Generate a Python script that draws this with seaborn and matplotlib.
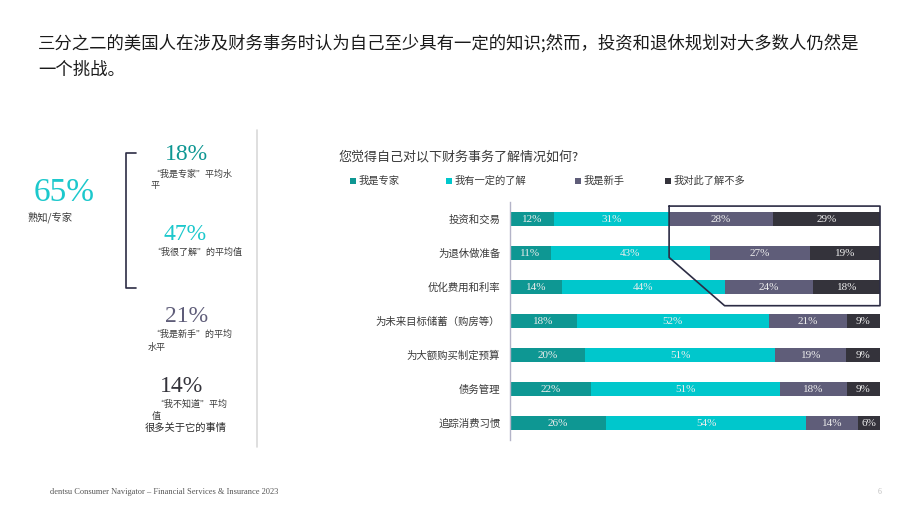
import pandas as pd
import seaborn as sns
import matplotlib.pyplot as plt
from matplotlib.patches import Rectangle
from matplotlib.lines import Line2D

# data
cats = ['投资和交易', '为退休做准备', '优化费用和利率', '为未来目标储蓄（购房等）',
        '为大额购买制定预算', '债务管理', '追踪消费习惯']
expert = [12, 11, 14, 18, 20, 22, 26]
know = [31, 43, 44, 52, 51, 51, 54]
novice = [28, 27, 24, 21, 19, 18, 14]
little = [29, 19, 18, 9, 9, 9, 6]
series_names = ['我是专家', '我有一定的了解', '我是新手', '我对此了解不多']
colors = ['#0E9793', '#00C7CC', '#5F5D79', '#34333B']

summary_vals = ['65%', '18%', '47%', '21%', '14%']

W, H = 920, 518
CJK = ['Noto Sans CJK SC', 'DejaVu Sans']
SERIF = ['Liberation Serif', 'DejaVu Serif']

sns.set_theme(style='white')
plt.rcParams['font.family'] = CJK


def fx(x):
    return x / W


def fy(y):
    return 1 - y / H


df = pd.DataFrame({'cat': cats, series_names[0]: expert, series_names[1]: know,
                   series_names[2]: novice, series_names[3]: little})
vals = df[series_names]
share = vals.div(vals.sum(axis=1), axis=0) * 100
cum = share.cumsum(axis=1)

fig = plt.figure(figsize=(9.2, 5.18), dpi=100)
ax = fig.add_axes([fx(510), fy(440), fx(880) - fx(510), fy(202) - fy(440)])

# stacked bars: draw cumulative totals from the back
for name, c in reversed(list(zip(series_names, colors))):
    sns.barplot(x=cum[name].values, y=cats, order=cats, orient='h', color=c,
                saturation=1, width=0.4, linewidth=0, ax=ax)

for i in range(len(cats)):
    for name in series_names:
        mid = cum.loc[i, name] - share.loc[i, name] / 2
        ax.text(mid, i, f'{vals.loc[i, name]}%', ha='center', va='center',
                fontsize=8, color='#EDEDED', family=SERIF)

ax.set_xlim(0, 100)
ax.set_ylim(6.5, -0.5)
ax.set_xticks([])
ax.set_xlabel('')
ax.set_ylabel('')
for s in ['top', 'right', 'bottom']:
    ax.spines[s].set_visible(False)
ax.spines['left'].set_color('#B4B4C8')
ax.spines['left'].set_linewidth(1)
ax.tick_params(axis='y', length=0, pad=7, labelsize=7.5, labelcolor='#3A3A3A')

# outline around the novice / don't-know block
x_top = cum.loc[0, series_names[1]]
x_bot = cum.loc[2, series_names[1]]
ax.add_line(Line2D([x_top, x_top, x_bot, 100, 100, x_top],
                   [-0.38, 1.13, 2.55, 2.55, -0.38, -0.38],
                   color='#2C2C44', lw=1.2, clip_on=False))

# title
fig.text(fx(38), fy(43), '三分之二的美国人在涉及财务事务时认为自己至少具有一定的知识;然而，投资和退休规划对大多数人仍然是',
         fontsize=12.5, color='#1A1A1A', va='center')
fig.text(fx(38), fy(70), '一个挑战。', fontsize=12.5, color='#1A1A1A', va='center')

# question + legend
fig.text(fx(339), fy(157), '您觉得自己对以下财务事务了解情况如何?', fontsize=9.4,
         color='#3A3A3A', va='center')
leg_x = [350, 446, 575, 665]
for lx, name, c in zip(leg_x, series_names, colors):
    fig.add_artist(Rectangle((fx(lx), fy(184)), 6 / W, 6 / H, transform=fig.transFigure,
                             facecolor=c, edgecolor='none'))
    fig.text(fx(lx + 9), fy(181), name, fontsize=7.4, color='#3A3A3A', va='center')

# left summary panel
fig.text(fx(64), fy(193), summary_vals[0], fontsize=24, color='#1CC8CC',
         ha='center', va='center', family=SERIF)
fig.text(fx(27), fy(217), '熟知/专家', fontsize=7.4, color='#3A3A3A', va='center')

fig.add_artist(Line2D([fx(136), fx(126), fx(126), fx(136)],
                      [fy(153), fy(153), fy(288), fy(288)],
                      transform=fig.transFigure, color='#2C2C44', lw=1.2))

fig.text(fx(186), fy(155), summary_vals[1], fontsize=17, color='#0E9793',
         ha='center', va='center', family=SERIF)
fig.text(fx(151), fy(174), '“我是专家”平均水', fontsize=6.5, color='#3A3A3A', va='center')
fig.text(fx(151), fy(185), '平', fontsize=6.5, color='#3A3A3A', va='center')

fig.text(fx(185), fy(235), summary_vals[2], fontsize=17, color='#1CC8CC',
         ha='center', va='center', family=SERIF)
fig.text(fx(152), fy(252), '“我很了解”的平均值', fontsize=6.5, color='#3A3A3A', va='center')

fig.text(fx(187), fy(317), summary_vals[3], fontsize=17, color='#5F5D79',
         ha='center', va='center', family=SERIF)
fig.text(fx(151), fy(334), '“我是新手”的平均', fontsize=6.5, color='#3A3A3A', va='center')
fig.text(fx(148), fy(347), '水平', fontsize=6.5, color='#3A3A3A', va='center')

fig.text(fx(182), fy(386), summary_vals[4], fontsize=17, color='#34333B',
         ha='center', va='center', family=SERIF)
fig.text(fx(155), fy(404), '“我不知道”平均', fontsize=6.5, color='#3A3A3A', va='center')
fig.text(fx(152), fy(416), '值', fontsize=6.5, color='#3A3A3A', va='center')
fig.text(fx(145), fy(428), '很多关于它的事情', fontsize=7.4, color='#2A2A2A', va='center')

# separator
fig.add_artist(Line2D([fx(257), fx(257)], [fy(130), fy(447)],
                      transform=fig.transFigure, color='#D9D9D9', lw=1.2))

# footer
fig.text(fx(50), fy(492), 'dentsu Consumer Navigator – Financial Services & Insurance 2023',
         fontsize=6, color='#555555', va='center', family=SERIF)
fig.text(fx(878), fy(492), '6', fontsize=5.5, color='#BBBBBB', va='center', family=SERIF)

fig.savefig('out.png', dpi=100)
